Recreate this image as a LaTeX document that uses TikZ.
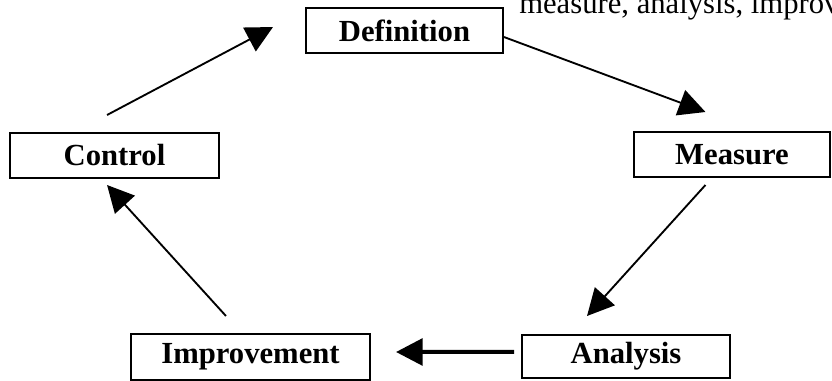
\documentclass[tikz,border=0pt]{standalone}
\usepackage{fontspec}
\setmainfont{Liberation Serif}
\usetikzlibrary{arrows.meta}

\begin{document}
\begin{tikzpicture}
                        [
                            x=0.75pt, y=-0.75pt,
                            box style/.style={draw, line width=1.5pt, inner sep=0pt,
                                font=\fontsize{23}{25}\selectfont\bfseries},
                            flow style/.style={-{Triangle[length=20pt,width=20pt]}, line width=1.4pt}
                        ]
                        \useasboundingbox (0,0) rectangle (832,381);
                        \clip (0,0) rectangle (832,381);
                        \node[anchor=base west, inner sep=0pt, font=\fontsize{23}{25}\selectfont] (note) at (519,14) {measure, analysis, improvement};
                        \node[box style, minimum width=147.75pt, minimum height=33.75pt] (defn) at (404.5,30.5) {Definition};
                        \node[box style, minimum width=156.75pt, minimum height=33.75pt] (ctrl) at (114.5,155.5) {Control};
                        \node[box style, minimum width=147pt, minimum height=33.75pt] (meas) at (732,154.5) {Measure};
                        \node[box style, minimum width=179.25pt, minimum height=34.5pt] (impr) at (250.5,357) {Improvement};
                        \node[box style, minimum width=156pt, minimum height=32.25pt] (anal) at (626,356.5) {Analysis};
                        % cycle of steps
                        \draw[flow style] ([xshift=-5.6pt,yshift=12.75pt]ctrl.north) -- ([xshift=-24pt,yshift=2.6pt]defn.west);
                        \draw[flow style] ([yshift=-4.9pt]defn.east) -- ([xshift=-19.9pt,yshift=14.25pt]meas.north);
                        \draw[flow style] ([xshift=-19.9pt,yshift=-5.25pt]meas.south) -- ([xshift=-29.25pt,yshift=13.5pt]anal.north);
                        \draw[flow style, line width=3pt] ([xshift=-5.25pt,yshift=3.4pt]anal.west) -- ([xshift=18.75pt,yshift=3.75pt]impr.east);
                        \draw[flow style] ([xshift=-18.4pt,yshift=12.75pt]impr.north) -- ([xshift=-5.6pt,yshift=-4.5pt]ctrl.south);
                        \end{tikzpicture}
\end{document}
